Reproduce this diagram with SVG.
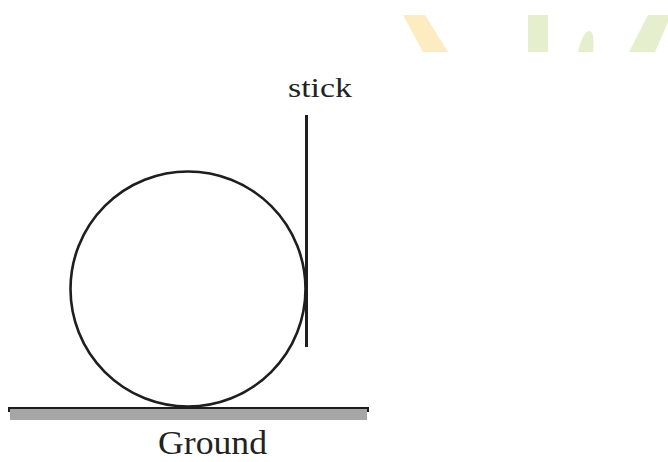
<svg xmlns="http://www.w3.org/2000/svg" width="668" height="462" viewBox="0 0 668 462">
  <style>
    .lbl { font-family: "Liberation Serif", "Times New Roman", serif; fill: #222; }
    .line { stroke: #1e1e1e; fill: none; }
    .wm-y { fill: #fdebc2; }
    .wm-g { fill: #e5efcd; }
  </style>
  <rect width="668" height="462" fill="#ffffff"/>
  <!-- watermark fragments -->
  <g id="watermark">
    <polygon class="wm-y" points="403,15 425,15 448,52 423,52"/>
    <rect class="wm-g" x="528" y="15" width="20" height="37"/>
    <path class="wm-g" d="M578,52 C580,42 584,32 589,31 C594,31 594,42 593,52 Z"/>
    <polygon class="wm-g" points="648,15 668,15 668,22 655,52 629,52"/>
  </g>
  <g id="ground">
    <rect x="10" y="409" width="357" height="11" fill="#a6a6a6"/>
    <path class="line" d="M9,412 L9,408 L368,408 L368,412" stroke-width="2" stroke="#333"/>
    <text class="lbl" x="158" y="454" font-size="33" textLength="109" lengthAdjust="spacingAndGlyphs">Ground</text>
  </g>
  <g id="circle">
    <circle class="line" cx="188" cy="289" r="117.5" stroke-width="2.6"/>
  </g>
  <g id="stick">
    <line class="line" x1="306.5" y1="115" x2="306.5" y2="347" stroke-width="3"/>
    <text class="lbl" x="288" y="97" font-size="28" textLength="64" lengthAdjust="spacingAndGlyphs">stick</text>
  </g>
  <g id="connectors"></g>
</svg>
